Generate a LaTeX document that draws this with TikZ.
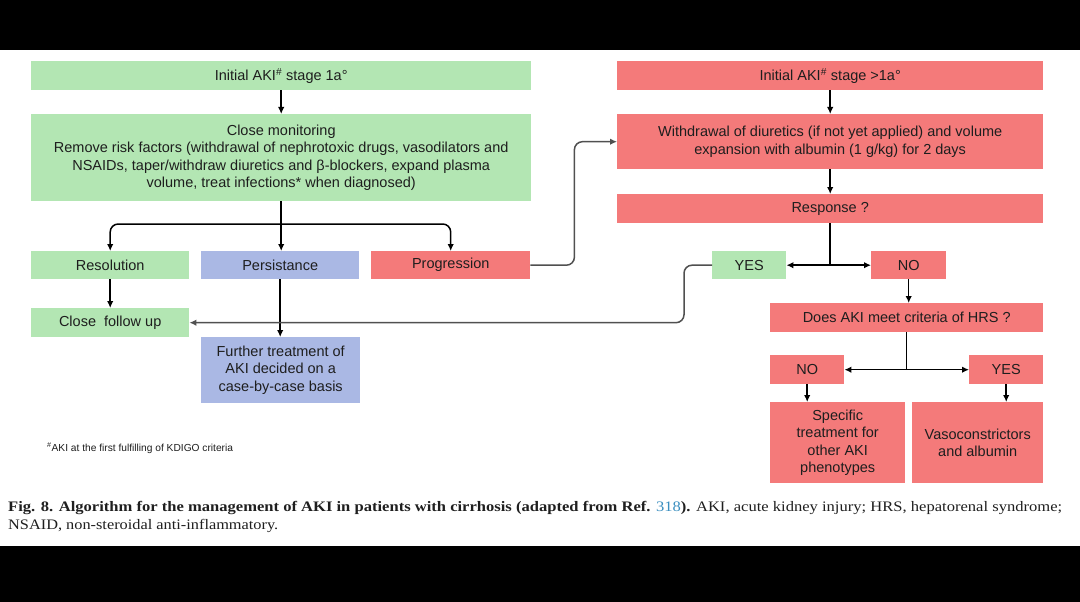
\documentclass[tikz,border=0pt]{standalone}
\usepackage{fontspec}
\usepackage{graphicx}
\setmainfont{Liberation Sans}
\newfontfamily\capfont{Liberation Serif}
\usetikzlibrary{arrows.meta}
\definecolor{gfill}{HTML}{B3E6B3}
\definecolor{rfill}{HTML}{F47A7A}
\definecolor{bfill}{HTML}{AAB8E4}
\definecolor{txt}{HTML}{1E1E1E}
\definecolor{linkgrey}{HTML}{505050}
\definecolor{refblue}{HTML}{3B8FC0}
\begin{document}
\begin{tikzpicture}[x=1pt,y=-1pt,
 box/.style={anchor=north west, inner sep=0pt, align=center, font=\fontsize{14.5}{17.6}\selectfont, text=txt},
 gbox/.style={box, fill=gfill},
 rbox/.style={box, fill=rfill},
 bbox/.style={box, fill=bfill},
 arr/.style={-{Latex[length=7pt,width=6.5pt]}, line width=1.5pt, black},
 plain/.style={line width=1.5pt, black},
 link/.style={-{Latex[length=7pt,width=6.5pt]}, line width=1.5pt, linkgrey, rounded corners=8pt},
 captxt/.style={anchor=base west, inner sep=0pt, font=\capfont\fontsize{14.5}{17}\selectfont, text=black!88},
]
\useasboundingbox (0,0) rectangle (1080,602);
\fill[black] (0,0) rectangle (1080,50);
\fill[white] (0,50) rectangle (1080,546);
\fill[black] (0,546) rectangle (1080,602);

% left column
\node[gbox, minimum width=500pt, minimum height=29pt] (n1) at (31,61) {Initial AKI\textsuperscript{\#} stage 1a°};
\node[gbox, minimum width=500pt, minimum height=87pt] (n2) at (31,114) {Close monitoring\\Remove risk factors (withdrawal of nephrotoxic drugs, vasodilators and\\NSAIDs, taper/withdraw diuretics and β-blockers, expand plasma\\volume, treat infections* when diagnosed)};
\node[gbox, minimum width=158pt, minimum height=28pt] (res) at (31,251) {Resolution};
\node[bbox, minimum width=158pt, minimum height=28pt] (pers) at (201,251) {Persistance};
\node[rbox, minimum width=159pt, minimum height=28pt] (prog) at (371,251) {Progression};
\node[gbox, minimum width=158pt, minimum height=29pt] (cfu) at (31,308) {Close\ \ follow up};
\node[bbox, minimum width=159pt, minimum height=66pt] (fur) at (201,337) {Further treatment of\\AKI decided on a\\case-by-case basis};
\node[anchor=west, inner sep=0pt, font=\fontsize{10.2}{12}\selectfont, text=txt] (foot) at (47,448) {\textsuperscript{\#}AKI at the first fulfilling of KDIGO criteria};

% right column
\node[rbox, minimum width=426pt, minimum height=29pt] (m1) at (617,61) {Initial AKI\textsuperscript{\#} stage >1a°};
\node[rbox, minimum width=426pt, minimum height=55pt] (m2) at (617,114) {Withdrawal of diuretics (if not yet applied) and volume\\expansion with albumin (1 g/kg) for 2 days};
\node[rbox, minimum width=426pt, minimum height=29pt] (m3) at (617,194) {Response ?};
\node[gbox, minimum width=74pt, minimum height=28pt] (yes1) at (712,251) {YES};
\node[rbox, minimum width=75pt, minimum height=28pt] (no1) at (871,251) {NO};
\node[rbox, minimum width=273pt, minimum height=29pt] (hrs) at (770,303) {Does AKI meet criteria of HRS ?};
\node[rbox, minimum width=74pt, minimum height=29pt] (no2) at (770,355) {NO};
\node[rbox, minimum width=74pt, minimum height=29pt] (yes2) at (969,355) {YES};
\node[rbox, minimum width=135pt, minimum height=81pt] (spec) at (770,402) {Specific\\treatment for\\other AKI\\phenotypes};
\node[rbox, minimum width=131pt, minimum height=81pt] (vaso) at (912,402) {Vasoconstrictors\\and albumin};

% left connectors
\draw[arr] (n1) -- (n2);
\coordinate (j1) at (281,224);
\draw[arr] (n2.south) -- (n2.south |- pers.north);
\draw[arr, rounded corners=8pt] (j1) -| (res.north);
\draw[arr, rounded corners=8pt] (j1) -| (prog.north);
\draw[arr] (res) -- (cfu);
\draw[arr] (pers.south) -- (pers.south |- fur.north);
\draw[link] (prog.east) -- ++(44,0) |- (m2.west);
\draw[link] (yes1.west) -- ++(-28,0) |- (cfu.east);

% right connectors
\draw[arr] (m1) -- (m2);
\draw[arr] (m2) -- (m3);
\coordinate (j2) at (m3.south |- yes1.east);
\draw[plain] (m3.south) -- (j2);
\draw[arr] (j2) -- (yes1.east);
\draw[arr] (j2) -- (no1.west);
\draw[arr] (no1.south) -- (no1.south |- hrs.north);
\coordinate (j3) at (hrs.south |- no2.east);
\draw[plain] (hrs.south) -- (j3);
\draw[arr] (j3) -- (no2.east);
\draw[arr] (j3) -- (yes2.west);
\draw[arr] (no2.south) -- (no2.south |- spec.north);
\draw[arr] (yes2.south) -- (yes2.south |- vaso.north);

% caption
\node[captxt] (cap1) at (8,511) {\resizebox{1054pt}{\height}{\textbf{Fig. 8. Algorithm for the management of AKI in patients with cirrhosis (adapted from Ref. \textcolor{refblue}{\mdseries 318}).} AKI, acute kidney injury; HRS, hepatorenal syndrome;}};
\node[captxt] (cap2) at (8,529) {\resizebox{270pt}{\height}{NSAID, non-steroidal anti-inflammatory.}};
\end{tikzpicture}
\end{document}
